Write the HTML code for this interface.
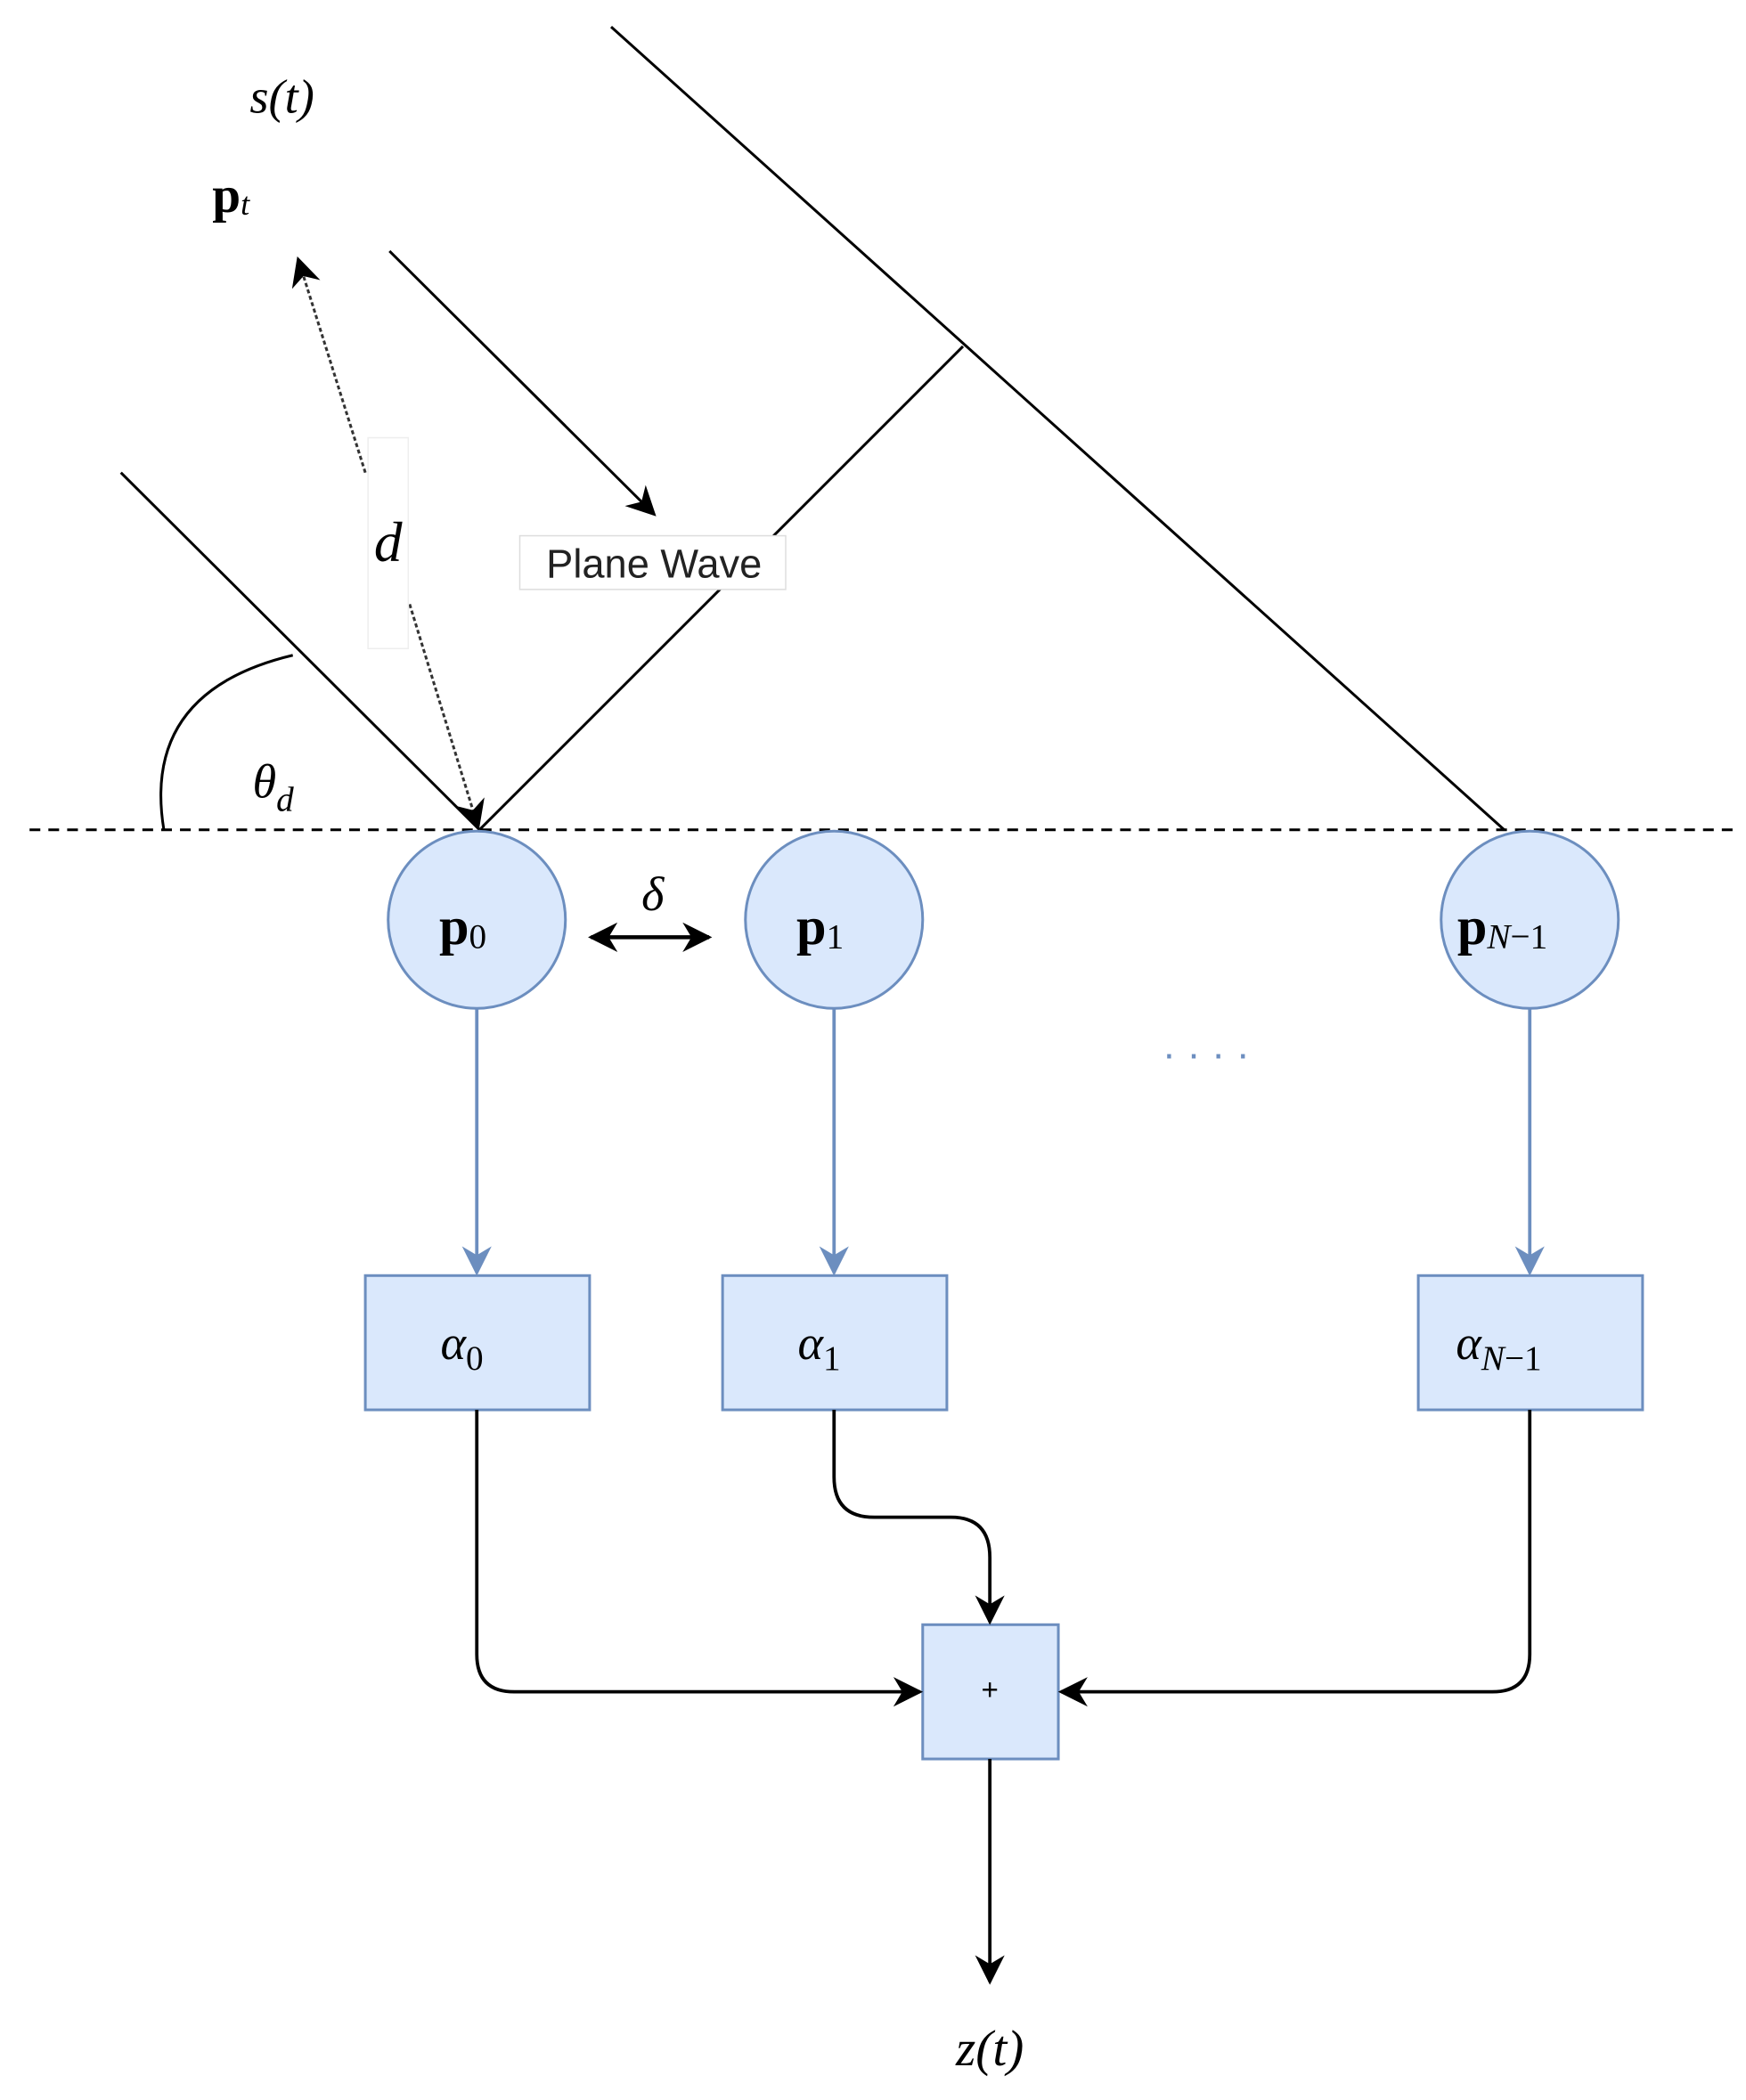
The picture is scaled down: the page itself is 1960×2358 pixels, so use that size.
<!DOCTYPE html>
<html><head><meta charset="utf-8"><style>
html,body{margin:0;padding:0;background:#fff;}
svg{display:block;}
.m{font-family:"Liberation Serif",serif;font-style:italic;fill:#000;}
.b{font-family:"Liberation Serif",serif;font-weight:bold;fill:#000;}
</style></head><body>
<svg width="1960" height="2358" viewBox="0 0 1300 1564" xmlns="http://www.w3.org/2000/svg">
<defs>
<marker id="ak" viewBox="0 0 10 10" refX="9" refY="5" markerWidth="22" markerHeight="22" orient="auto-start-reverse" markerUnits="userSpaceOnUse">
<path d="M0,0 L10,5 L0,10 L3,5 z" fill="#000"/></marker>
<marker id="ab" viewBox="0 0 10 10" refX="9" refY="5" markerWidth="22" markerHeight="22" orient="auto" markerUnits="userSpaceOnUse">
<path d="M0,0 L10,5 L0,10 L3,5 z" fill="#6c8ebf"/></marker>
</defs>
<line x1="22" y1="618" x2="1290" y2="618" stroke="#000" stroke-width="2" stroke-dasharray="8,6"/>
<line x1="90" y1="352" x2="357" y2="618" stroke="#000" stroke-width="2"/>
<line x1="357" y1="618" x2="717" y2="258" stroke="#000" stroke-width="2"/>
<line x1="455" y1="20" x2="1120" y2="618" stroke="#000" stroke-width="2"/>
<line x1="290" y1="187" x2="487" y2="383" stroke="#000" stroke-width="2" marker-end="url(#ak)"/>
<line x1="272" y1="352" x2="222" y2="193" stroke="#333" stroke-width="2" stroke-dasharray="3,2" marker-end="url(#ak)"/>
<line x1="305" y1="450" x2="356" y2="616" stroke="#333" stroke-width="2" stroke-dasharray="3,2" marker-end="url(#ak)"/>
<rect x="274" y="326" width="30" height="157" fill="#fff" stroke="#eee"/>
<text x="289" y="418" class="m" font-size="42" text-anchor="middle">d</text>
<rect x="387" y="399" width="198" height="40" fill="#fff" stroke="#ddd"/>
<text x="487" y="430" font-family="Liberation Sans,sans-serif" font-size="30" text-anchor="middle" fill="#222">Plane Wave</text>
<path d="M218,488 Q105,515 122,618" fill="none" stroke="#000" stroke-width="2"/>
<text x="188" y="594" class="m" font-size="36">θ<tspan font-size="26" dy="10">d</tspan></text>
<text x="186" y="84" class="m" font-size="36">s(t)</text>
<text x="158" y="158" class="b" font-size="38">p<tspan class="m" font-weight="normal" font-size="24" dy="2">t</tspan></text>
<g fill="#dae8fc" stroke="#6c8ebf" stroke-width="2">
<circle cx="355" cy="685" r="66"/><circle cx="621" cy="685" r="66"/><circle cx="1139" cy="685" r="66"/>
<rect x="272" y="950" width="167" height="100"/><rect x="538" y="950" width="167" height="100"/><rect x="1056" y="950" width="167" height="100"/>
<rect x="687" y="1210" width="101" height="100"/>
</g>
<text x="327" y="703" class="b" font-size="40">p<tspan font-weight="normal" font-size="26" dy="3">0</tspan></text>
<text x="593" y="703" class="b" font-size="40">p<tspan font-weight="normal" font-size="26" dy="3">1</tspan></text>
<text x="1085" y="703" class="b" font-size="40">p<tspan font-weight="normal" font-style="italic" font-size="26" dy="3">N</tspan><tspan font-weight="normal" font-size="26">−1</tspan></text>
<text x="486" y="678" class="m" font-size="36" text-anchor="middle">δ</text>
<line x1="440" y1="698" x2="528" y2="698" stroke="#000" stroke-width="3" marker-start="url(#ak)" marker-end="url(#ak)"/>
<text x="898" y="795" font-size="30" fill="#6c8ebf" text-anchor="middle" font-family="Liberation Sans,sans-serif">· · · ·</text>
<g stroke="#6c8ebf" stroke-width="2.5">
<line x1="355" y1="751" x2="355" y2="948" marker-end="url(#ab)"/>
<line x1="621" y1="751" x2="621" y2="948" marker-end="url(#ab)"/>
<line x1="1139" y1="751" x2="1139" y2="948" marker-end="url(#ab)"/>
</g>
<text x="328" y="1012" class="m" font-size="36">α<tspan font-style="normal" font-size="26" dy="8">0</tspan></text>
<text x="594" y="1012" class="m" font-size="36">α<tspan font-style="normal" font-size="26" dy="8">1</tspan></text>
<text x="1084" y="1012" class="m" font-size="36">α<tspan font-size="26" dy="8">N</tspan><tspan font-style="normal" font-size="26">−1</tspan></text>
<text x="737" y="1266" font-family="Liberation Sans,sans-serif" font-size="22" text-anchor="middle">+</text>
<g fill="none" stroke="#000" stroke-width="2.5">
<path d="M355,1050 V1232 Q355,1260 383,1260 H685" marker-end="url(#ak)"/>
<path d="M621,1050 V1100 Q621,1130 651,1130 H708 Q737,1130 737,1160 V1208" marker-end="url(#ak)"/>
<path d="M1139,1050 V1232 Q1139,1260 1111,1260 H790" marker-end="url(#ak)"/>
<path d="M737,1310 V1476" marker-end="url(#ak)"/>
</g>
<text x="737" y="1538" class="m" font-size="38" text-anchor="middle">z(t)</text>
</svg>
</body></html>
